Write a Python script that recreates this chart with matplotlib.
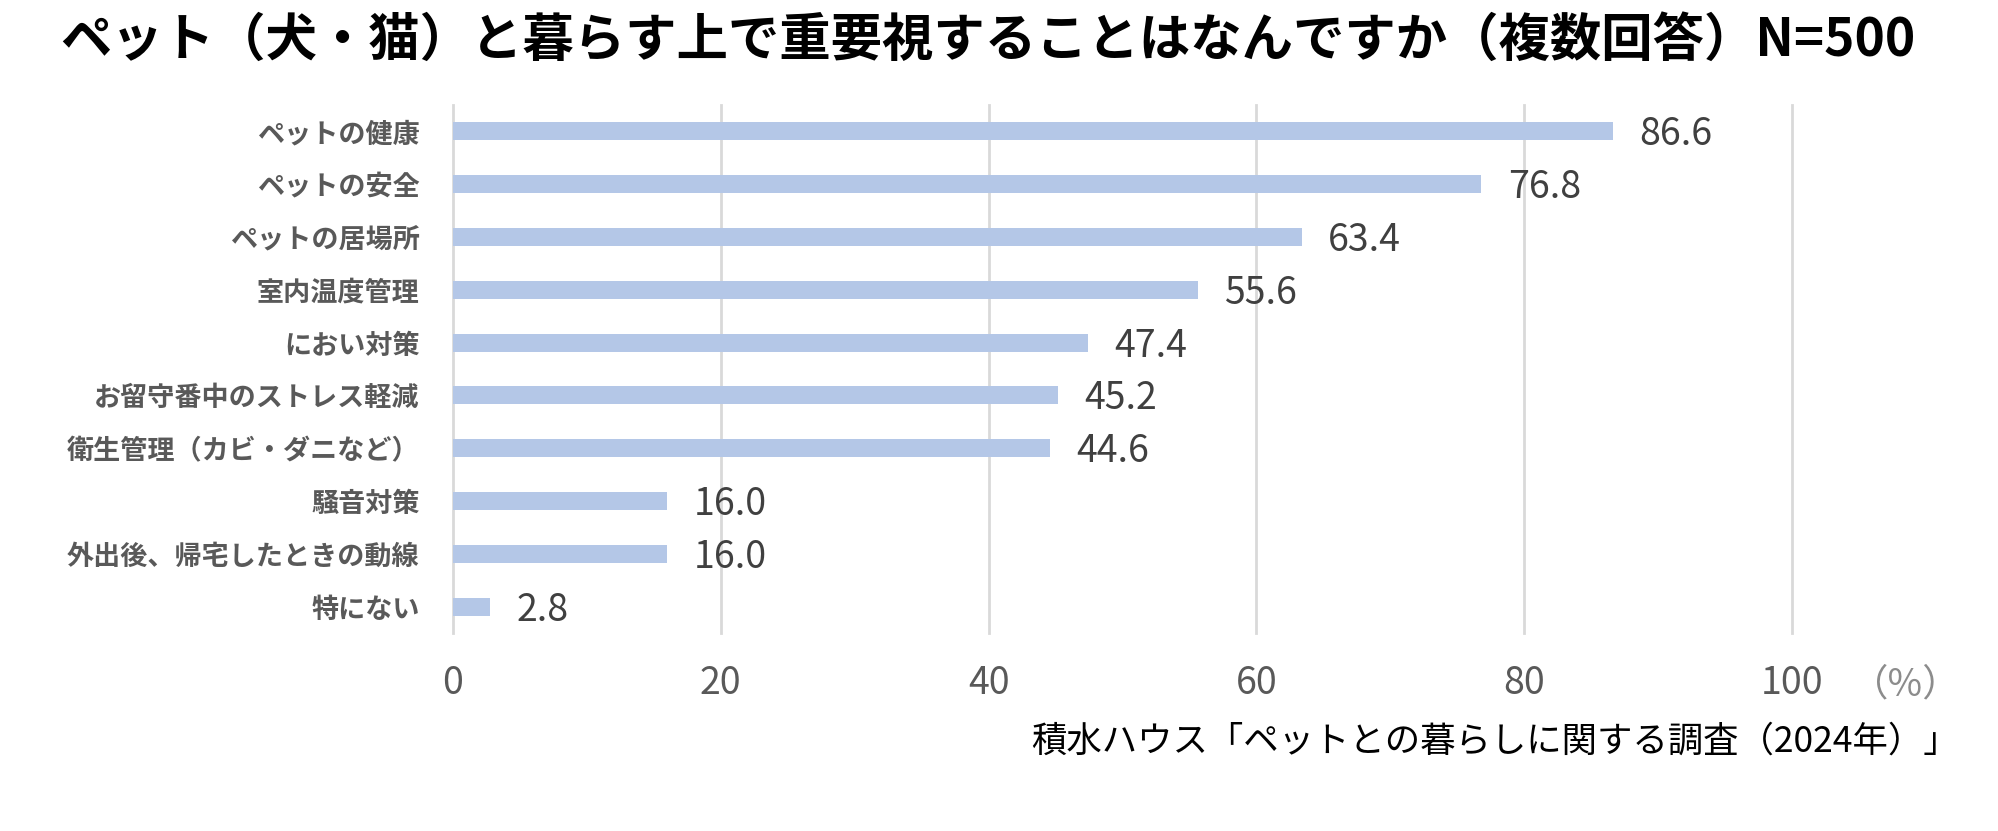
import matplotlib.pyplot as plt
import numpy as np

# data
categories = ['ペットの健康', 'ペットの安全', 'ペットの居場所', '室内温度管理', 'におい対策',
              'お留守番中のストレス軽減', '衛生管理（カビ・ダニなど）', '騒音対策',
              '外出後、帰宅したときの動線', '特にない']
values = [86.6, 76.8, 63.4, 55.6, 47.4, 45.2, 44.6, 16.0, 16.0, 2.8]
xticks = [0, 20, 40, 60, 80, 100]

title = 'ペット（犬・猫）と暮らす上で重要視することはなんですか（複数回答）N=500'
source = '積水ハウス「ペットとの暮らしに関する調査（2024年）」'

plt.rcParams['font.family'] = ['Noto Sans CJK JP', 'DejaVu Sans']

fig = plt.figure(figsize=(19.99, 8.31), dpi=100)
ax = fig.add_axes([0.2266, 0.238, 0.6699, 0.636])

y = np.arange(len(categories))
bars = ax.barh(y, values, height=0.34, color='#B4C7E7', zorder=3)
labels = ax.bar_label(bars, labels=['%.1f' % v for v in values], padding=19,
                      fontsize=27, color='#404040')
for lb in labels:
    lb.xyann = (19, -2.5)  # nudge down a little, like the reference

ax.set_ylim(len(categories) - 0.5, -0.5)
ax.set_xlim(0, 100)
ax.set_xticks(xticks)
ax.set_yticks(y)
ax.set_yticklabels(categories, fontsize=19.5, fontweight='bold', color='#595959')
ax.tick_params(axis='y', length=0, pad=24)
ax.tick_params(axis='x', length=0, pad=22, labelsize=27, labelcolor='#595959')

for s in ax.spines.values():
    s.set_visible(False)
ax.grid(axis='x', color='#D9D9D9', linewidth=2, zorder=0)
for gl in ax.get_xgridlines():
    gl.set_clip_on(False)

ax.text(1.085, -0.097, '（%）', transform=ax.transAxes, fontsize=27,
        color='#8C8C8C', ha='center', va='center')

fig.text(0.494, 0.951, title, fontsize=37, fontweight='bold', color='black',
         ha='center', va='center')
fig.text(0.98, 0.108, source, fontsize=25.5, color='black', ha='right', va='center')

fig.savefig('out.png', dpi=100)
